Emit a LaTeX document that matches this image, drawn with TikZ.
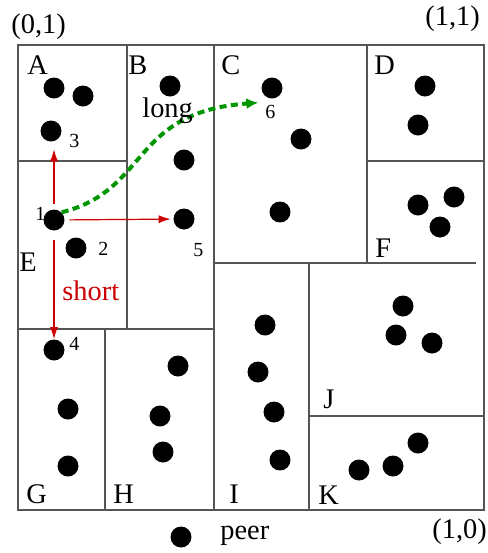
\documentclass[tikz,border=0pt]{standalone}
\usepackage{fontspec}
\setmainfont{Liberation Serif}
\usetikzlibrary{arrows.meta,positioning}
\definecolor{colR}{RGB}{204,0,0}
\definecolor{colG}{RGB}{0,150,0}
\definecolor{colL}{RGB}{85,85,85}

\begin{document}
\begin{tikzpicture}[
  x=0.5pt,y=-0.5pt,
  every node/.style={font=\fontsize{14.2}{17}\selectfont,inner sep=0pt},
  peer/.style={circle,fill=black,minimum size=10.5pt},
  num/.style={anchor=base west,font=\fontsize{10}{12}\selectfont},
  zone/.style={anchor=base west},
  wall/.style={draw=colL,line width=0.7pt},
  shortarrow/.style={colR,line width=0.6pt,-{Latex[length=6pt,width=4pt]}},
  longarrow/.style={colG,line width=2pt,dash pattern=on 3.5pt off 2.2pt,-{Latex[length=6pt,width=5.5pt]}}
]
\useasboundingbox (0,0) rectangle (488,553);
% regions
\draw[wall] (18,45) rectangle (484,510);
\draw[wall] (127,45) -- (127,329);
\draw[wall] (18,161) -- (127,161);
\draw[wall] (214,45) -- (214,510);
\draw[wall] (367,45) -- (367,263);
\draw[wall] (367,161) -- (484,161);
\draw[wall] (214,263) -- (476,263);
\draw[wall] (309,263) -- (309,510);
\draw[wall] (309,416) -- (484,416);
\draw[wall] (18,329) -- (214,329);
\draw[wall] (105,329) -- (105,510);
\node[zone] (lA) at (27,74) {A};
\node[zone] (lB) at (128,74) {B};
\node[zone] (lC) at (221,74) {C};
\node[zone] (lD) at (374,74) {D};
\node[zone] (lE) at (19,271) {E};
\node[zone] (lF) at (375,257) {F};
\node[zone] (lG) at (26,503) {G};
\node[zone] (lH) at (113,503) {H};
\node[zone] (lI) at (229,503) {I};
\node[zone] (lJ) at (323,408) {J};
\node[zone] (lK) at (318,504) {K};
\node[zone] (c01) at (11,33) {(0,1)};
\node[zone] (c11) at (425,25) {(1,1)};
\node[zone] (c10) at (432,538) {(1,0)};
% peers
\node[peer] (p1) at (54,220) {};
\node[peer] (p2) at (76,248) {};
\node[peer] (p3) at (51,131) {};
\node[peer] (p4) at (54,350) {};
\node[peer] (p5) at (184,219) {};
\node[peer] (p6) at (272,88) {};
\node[peer] (a1) at (54,88) {};
\node[peer] (a2) at (83,96) {};
\node[peer] (b1) at (170,86) {};
\node[peer] (b2) at (184,160) {};
\node[peer] (c1) at (301,139) {};
\node[peer] (c2) at (280,212) {};
\node[peer] (d1) at (425,86) {};
\node[peer] (d2) at (418,125) {};
\node[peer] (f1) at (418,205) {};
\node[peer] (f2) at (454,197) {};
\node[peer] (f3) at (440,227) {};
\node[peer] (g1) at (68,409) {};
\node[peer] (g2) at (68,466) {};
\node[peer] (h1) at (178,366) {};
\node[peer] (h2) at (160,416) {};
\node[peer] (h3) at (163,452) {};
\node[peer] (i1) at (265,325) {};
\node[peer] (i2) at (258,372) {};
\node[peer] (i3) at (274,412) {};
\node[peer] (i4) at (280,460) {};
\node[peer] (j1) at (403,306) {};
\node[peer] (j2) at (396,335) {};
\node[peer] (j3) at (432,343) {};
\node[peer] (k1) at (359,470) {};
\node[peer] (k2) at (393,466) {};
\node[peer] (k3) at (418,443) {};
\node[num] (n1) at (35,220) {1};
\node[num] (n2) at (98,255) {2};
\node[num] (n3) at (69,147) {3};
\node[num] (n4) at (69,350) {4};
\node[num] (n5) at (193,256) {5};
\node[num] (n6) at (265,118) {6};
% routes
\draw[shortarrow,shorten <=2.75pt,shorten >=3.7pt] (p1) -- (p1 |- p3.south);
\draw[shortarrow,shorten <=2.25pt,shorten >=1.2pt] (p1) -- (p5);
\draw[shortarrow,shorten <=4.5pt] (p1) -- (p4);
\node[zone,text=colR] (short) at (62,300) {short};
\draw[longarrow] (p1.north east) .. controls (150,190) and (130,112) .. ([shift={(-6,7)}]p6.south west);
\node[zone] (long) at (142,117) {long};
% legend
\node[peer] (key) at (181,537) {};
\node[zone] (keytxt) at (220,539) {peer};
\end{tikzpicture}
\end{document}
